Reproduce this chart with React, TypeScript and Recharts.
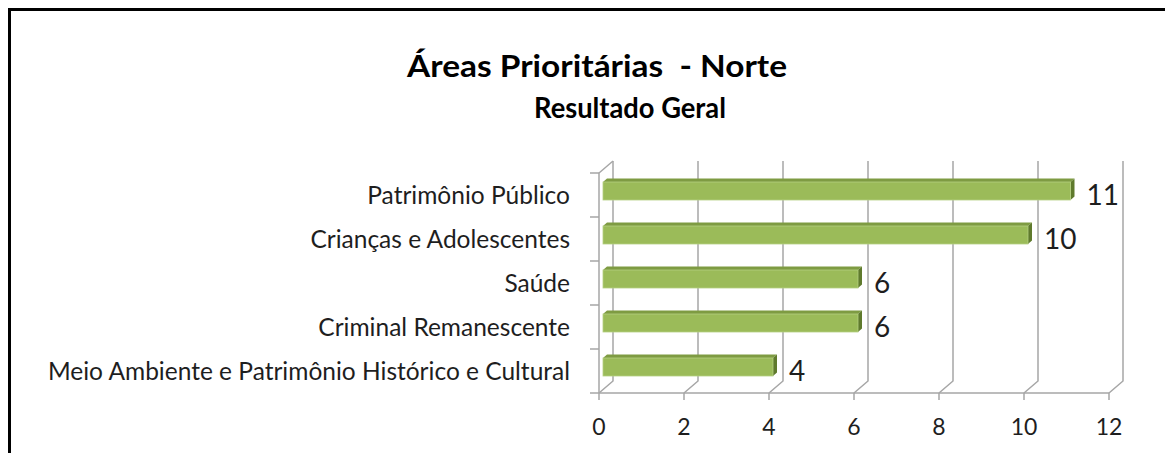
import { BarChart, Bar, XAxis, YAxis, CartesianGrid, LabelList } from 'recharts';

const categories = [
  'Patrimônio Público',
  'Crianças e Adolescentes',
  'Saúde',
  'Criminal Remanescente',
  'Meio Ambiente e Patrimônio Histórico e Cultural',
];
const values = [11, 10, 6, 6, 4];
const xTicks = [0, 2, 4, 6, 8, 10, 12];
const titleLines = ['Áreas Prioritárias  - Norte', 'Resultado Geral'];

const data = categories.map((name, i) => ({ name, value: values[i] }));

// layout (chart coords, origin = page 8,8)
const W = 1154;
const H = 434;
const PLOT_TOP = 165;
const PLOT_H = 220;
const Y_AXIS_W = 591;
const DEPTH_X = 14;
const DEPTH_Y = 12;
const BAND = PLOT_H / categories.length;

const GRID = '#a6a6a6';
const TEXT = '#1e1e1e';
const FONT = 'Lato, "DejaVu Sans", sans-serif';

// back wall gridlines with the floor diagonal
const backLine = (p: any) => {
  const { x1, y1, y2 } = p;
  return (
    <path
      key={p.key ?? `g-${x1}`}
      d={`M${x1 + DEPTH_X},${y1 - DEPTH_Y} L${x1 + DEPTH_X},${y2 - DEPTH_Y} L${x1},${y2}`}
      stroke={GRID}
      strokeWidth={1.5}
      fill="none"
    />
  );
};

const CategoryTick = (props: any) => {
  const { x, y, payload, index } = props;
  const top = y - BAND / 2;
  return (
    <g>
      <line x1={x - 9} x2={x} y1={top} y2={top} stroke={GRID} strokeWidth={1.5} />
      {index === categories.length - 1 && (
        <line x1={x - 9} x2={x} y1={y + BAND / 2} y2={y + BAND / 2} stroke={GRID} strokeWidth={1.5} />
      )}
      {index === 0 && (
        <line x1={x} y1={top} x2={x + DEPTH_X} y2={top - DEPTH_Y} stroke={GRID} strokeWidth={1.5} />
      )}
      <text x={x - 29} y={y + 9} textAnchor="end" fontFamily={FONT} fontSize={24.5} fill={TEXT}>
        {payload.value}
      </text>
    </g>
  );
};

const Bar3D = (props: any) => {
  const { x, y, width, height } = props;
  const fx = x + 4;
  const fy = y - 4;
  const d = 4;
  const dy = 3.5;
  return (
    <g>
      <polygon
        points={`${fx},${fy} ${fx + d},${fy - dy} ${fx + width + d},${fy - dy} ${fx + width},${fy}`}
        fill="#7e9b42"
      />
      <polygon
        points={`${fx + width},${fy} ${fx + width + d},${fy - dy} ${fx + width + d},${fy + height - dy} ${fx + width},${fy + height}`}
        fill="#5f7a2d"
      />
      <rect x={fx} y={fy} width={width} height={height} fill="#9bbb59" stroke="#b5cf82" strokeWidth={0.8} />
    </g>
  );
};

const ValueLabel = (props: any) => {
  const { x, y, width, height, value } = props;
  return (
    <text x={x + width + 20} y={y + height + 1} fontFamily={FONT} fontSize={28} fill={TEXT}>
      {value}
    </text>
  );
};

export default function App() {
  return (
    <div
      style={{
        position: 'relative',
        width: 1157,
        height: 445,
        boxSizing: 'border-box',
        borderTop: '3px solid #000',
        borderLeft: '3px solid #000',
        overflow: 'hidden',
        background: '#fff',
      }}
    >
      <svg width={W} height={140} style={{ position: 'absolute', left: -3, top: -3 }}>
        <text
          x={589}
          y={69}
          textAnchor="middle"
          fontFamily={FONT}
          fontWeight="bold"
          fontSize={30}
          fill="#000"
          textLength={380}
          lengthAdjust="spacingAndGlyphs"
          style={{ whiteSpace: 'pre' }}
        >
          {titleLines[0]}
        </text>
        <text
          x={622}
          y={110}
          textAnchor="middle"
          fontFamily={FONT}
          fontWeight="bold"
          fontSize={29}
          fill="#000"
          textLength={192}
          lengthAdjust="spacingAndGlyphs"
        >
          {titleLines[1]}
        </text>
      </svg>
      <div style={{ position: 'absolute', left: -3, top: -3 }}>
        <BarChart
          width={W}
          height={H}
          data={data}
          layout="vertical"
          margin={{ top: PLOT_TOP, right: 53, bottom: 0, left: 0 }}
          barSize={18}
        >
          <CartesianGrid horizontal={false} vertical={backLine} />
          <XAxis
            type="number"
            domain={[0, 12]}
            ticks={xTicks}
            interval={0}
            height={49}
            stroke={GRID}
            strokeWidth={1.5}
            tickSize={7}
            tickMargin={19}
            tick={{ fill: TEXT, fontSize: 23, fontFamily: FONT }}
          />
          <YAxis
            type="category"
            dataKey="name"
            width={Y_AXIS_W}
            stroke={GRID}
            strokeWidth={1.5}
            tickLine={false}
            tickSize={0}
            tickMargin={0}
            interval={0}
            tick={<CategoryTick />}
          />
          <Bar dataKey="value" shape={<Bar3D />} isAnimationActive={false}>
            <LabelList dataKey="value" content={<ValueLabel />} />
          </Bar>
        </BarChart>
      </div>
    </div>
  );
}
